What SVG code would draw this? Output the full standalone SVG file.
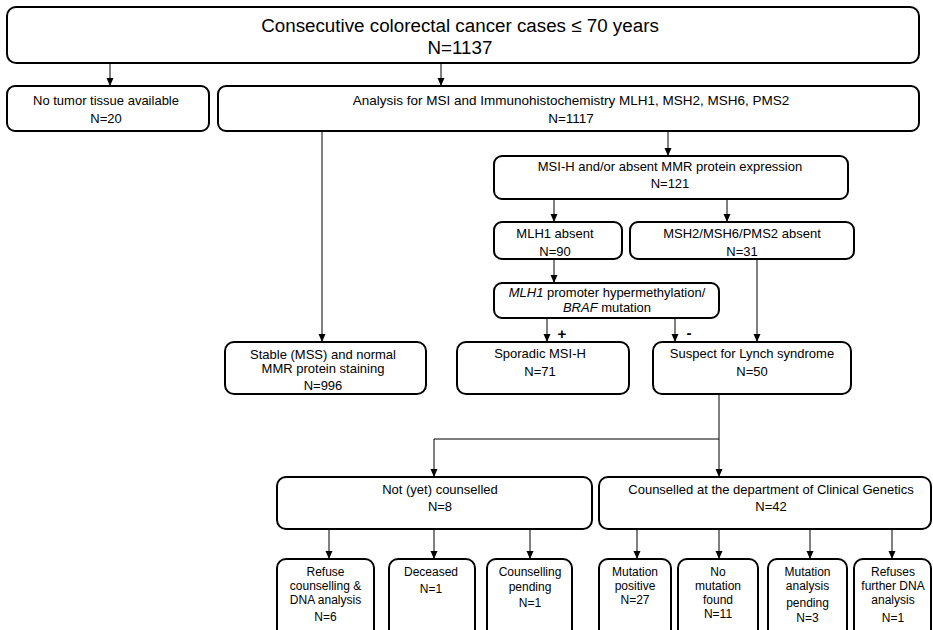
<svg xmlns="http://www.w3.org/2000/svg" width="933" height="630" viewBox="0 0 933 630">
<defs>
<style>
.box{fill:#fff;stroke:#000;stroke-width:2}
.ln{fill:none;stroke:#000;stroke-width:1}
text{font-family:"Liberation Sans",Arial,sans-serif;fill:#000;text-anchor:middle}
.t18{font-size:18.8px}
.t13{font-size:13px}
.t135{font-size:13.5px}
.t12{font-size:12px}
.sg{font-size:15px;font-weight:bold}
</style>
<marker id="ah" markerUnits="userSpaceOnUse" markerWidth="8" markerHeight="8" viewBox="0 0 8 8" refX="8" refY="4" orient="auto">
<path d="M0,0.5 L8,4 L0,7.5 z" fill="#000"/>
</marker>
</defs>
<rect width="933" height="630" fill="#fff"/>
<g id="connectors">
<path class="ln" d="M110,63 V86" marker-end="url(#ah)"/>
<path class="ln" d="M441,63 V86" marker-end="url(#ah)"/>
<path class="ln" d="M322,131 V342" marker-end="url(#ah)"/>
<path class="ln" d="M668,131 V156" marker-end="url(#ah)"/>
<path class="ln" d="M554,199 V222" marker-end="url(#ah)"/>
<path class="ln" d="M727,199 V222" marker-end="url(#ah)"/>
<path class="ln" d="M554,259 V283" marker-end="url(#ah)"/>
<path class="ln" d="M547,318 V342" marker-end="url(#ah)"/>
<path class="ln" d="M675,318 V342" marker-end="url(#ah)"/>
<path class="ln" d="M757,259 V342" marker-end="url(#ah)"/>
<path class="ln" d="M719,394 V439 H434 V477" marker-end="url(#ah)"/>
<path class="ln" d="M719,439 V477" marker-end="url(#ah)"/>
<path class="ln" d="M329,529 V559" marker-end="url(#ah)"/>
<path class="ln" d="M434,529 V559" marker-end="url(#ah)"/>
<path class="ln" d="M530,529 V559" marker-end="url(#ah)"/>
<path class="ln" d="M637,529 V559" marker-end="url(#ah)"/>
<path class="ln" d="M719,529 V559" marker-end="url(#ah)"/>
<path class="ln" d="M810,529 V559" marker-end="url(#ah)"/>
<path class="ln" d="M892,529 V559" marker-end="url(#ah)"/>
<text class="sg" x="562" y="339">+</text>
<text class="sg" x="689" y="338">-</text>
</g>
<g id="n-top"><rect class="box" x="7" y="7" width="912" height="56" rx="9"/>
<text class="t18" x="460" y="32">Consecutive colorectal cancer cases ≤ 70 years</text>
<text class="t18" x="460" y="54">N=1137</text></g>
<g id="n-notumor"><rect class="box" x="7" y="86" width="202" height="45" rx="8"/>
<text class="t13" x="106" y="104.5">No tumor tissue available</text>
<text class="t13" x="106" y="122.5">N=20</text></g>
<g id="n-analysis"><rect class="box" x="218" y="86" width="701" height="45" rx="8"/>
<text class="t135" x="571" y="104.5">Analysis for MSI and Immunohistochemistry MLH1, MSH2, MSH6, PMS2</text>
<text class="t135" x="571" y="122.5">N=1117</text></g>
<g id="n-msih"><rect class="box" x="494" y="156" width="354" height="43" rx="8"/>
<text class="t13" x="670" y="170.5">MSI-H and/or absent MMR protein expression</text>
<text class="t13" x="670" y="187.5">N=121</text></g>
<g id="n-mlh1"><rect class="box" x="494" y="222" width="128" height="37" rx="8"/>
<text class="t13" x="555" y="237.5">MLH1 absent</text>
<text class="t13" x="555" y="255.5">N=90</text></g>
<g id="n-msh2"><rect class="box" x="630" y="222" width="224" height="37" rx="8"/>
<text class="t13" x="742" y="237.5">MSH2/MSH6/PMS2 absent</text>
<text class="t13" x="742" y="255.5">N=31</text></g>
<g id="n-promoter"><rect class="box" x="494" y="283" width="225" height="35" rx="8"/>
<text class="t13" x="607" y="297"><tspan font-style="italic">MLH1</tspan> promoter hypermethylation/</text>
<text class="t13" x="607" y="311.5"><tspan font-style="italic">BRAF</tspan> mutation</text></g>
<g id="n-stable"><rect class="box" x="225" y="342" width="201" height="52" rx="9"/>
<text class="t13" x="323" y="359">Stable (MSS) and normal</text>
<text class="t13" x="323" y="372.5">MMR protein staining</text>
<text class="t13" x="323" y="390">N=996</text></g>
<g id="n-sporadic"><rect class="box" x="457" y="342" width="172" height="52" rx="9"/>
<text class="t13" x="540" y="357.5">Sporadic MSI-H</text>
<text class="t13" x="540" y="375.5">N=71</text></g>
<g id="n-suspect"><rect class="box" x="653" y="342" width="198" height="52" rx="9"/>
<text class="t13" x="752" y="357.5">Suspect for Lynch syndrome</text>
<text class="t13" x="752" y="375.5">N=50</text></g>
<g id="n-notyet"><rect class="box" x="277" y="477" width="315" height="52" rx="9"/>
<text class="t13" x="440" y="493.5">Not (yet) counselled</text>
<text class="t13" x="440" y="510.5">N=8</text></g>
<g id="n-counselled"><rect class="box" x="599" y="477" width="332" height="52" rx="9"/>
<text class="t13" x="771" y="493.5">Counselled at the department of Clinical Genetics</text>
<text class="t13" x="771" y="510.5">N=42</text></g>
<g id="n-refuse"><rect class="box" x="277" y="559" width="97" height="80" rx="9"/>
<text class="t12" x="325.5" y="576">Refuse</text>
<text class="t12" x="325.5" y="590">counselling &amp;</text>
<text class="t12" x="325.5" y="604">DNA analysis</text>
<text class="t12" x="325.5" y="621">N=6</text></g>
<g id="n-deceased"><rect class="box" x="389" y="559" width="86" height="80" rx="9"/>
<text class="t12" x="431" y="576">Deceased</text>
<text class="t12" x="431" y="593">N=1</text></g>
<g id="n-cpending"><rect class="box" x="487" y="559" width="85" height="80" rx="9"/>
<text class="t12" x="530" y="576">Counselling</text>
<text class="t12" x="530" y="591">pending</text>
<text class="t12" x="530" y="607">N=1</text></g>
<g id="n-mutpos"><rect class="box" x="599" y="559" width="72" height="80" rx="9"/>
<text class="t12" x="635" y="576">Mutation</text>
<text class="t12" x="635" y="590">positive</text>
<text class="t12" x="635" y="604">N=27</text></g>
<g id="n-nomut"><rect class="box" x="678" y="559" width="80" height="80" rx="9"/>
<text class="t12" x="718" y="576">No</text>
<text class="t12" x="718" y="590">mutation</text>
<text class="t12" x="718" y="604">found</text>
<text class="t12" x="718" y="618">N=11</text></g>
<g id="n-mapending"><rect class="box" x="768" y="559" width="79" height="80" rx="9"/>
<text class="t12" x="807.5" y="576">Mutation</text>
<text class="t12" x="807.5" y="590">analysis</text>
<text class="t12" x="807.5" y="607">pending</text>
<text class="t12" x="807.5" y="622">N=3</text></g>
<g id="n-refuses"><rect class="box" x="854" y="559" width="77" height="80" rx="9"/>
<text class="t12" x="893" y="576">Refuses</text>
<text class="t12" x="893" y="590">further DNA</text>
<text class="t12" x="893" y="604">analysis</text>
<text class="t12" x="893" y="622">N=1</text></g>
</svg>
